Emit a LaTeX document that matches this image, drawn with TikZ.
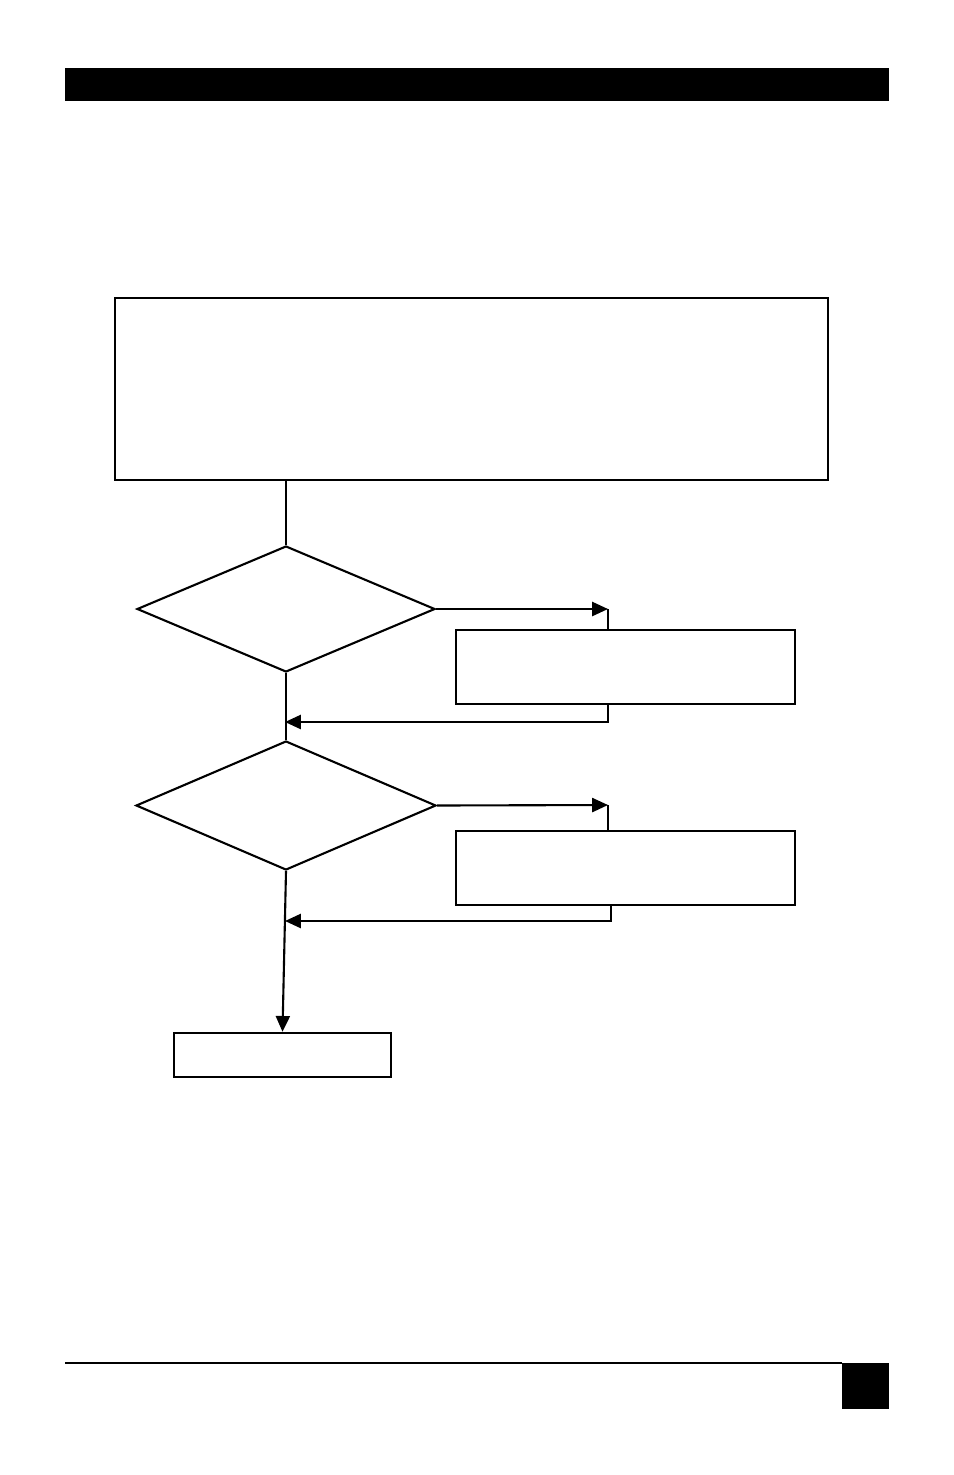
\documentclass[tikz,border=0pt]{standalone}
\usetikzlibrary{shapes.geometric, arrows.meta}
\tikzset{
	box/.style={draw=black, line width=1.4pt, fill=white, inner sep=0pt},
	decision/.style={draw=black, line width=1.2pt, diamond, aspect=2.36, inner sep=0pt},
	flow/.style={line width=1.2pt},
	flowarrow/.style={line width=1.2pt, -{Triangle[length=9pt,width=8pt]}}
}
\begin{document}
\begin{tikzpicture}[x=0.02cm, y=-0.02cm]
	\useasboundingbox (0,0) rectangle (954,1475);
	% Kopfbalken
	\fill[black] (65,68) rectangle (889,101);
	% Kaesten
	\node[box, minimum width=713*0.02cm, minimum height=182*0.02cm] (start) at (471.5,389) {};
	\node[decision, minimum width=298*0.02cm, minimum height=126*0.02cm] (checkA) at (286,609) {};
	\node[box, minimum width=339*0.02cm, minimum height=74*0.02cm] (fixA) at (625.5,667) {};
	\node[decision, minimum width=300*0.02cm, minimum height=129*0.02cm] (checkB) at (286,805.5) {};
	\node[box, minimum width=339*0.02cm, minimum height=74*0.02cm] (fixB) at (625.5,868) {};
	\node[box, minimum width=217*0.02cm, minimum height=44*0.02cm] (done) at (282.5,1055) {};
	\coordinate (joinA) at (285,722);
	\coordinate (joinB) at (285,921);
	% Verbindungen
	\draw[flow] (start.south -| checkA.north) -- (checkA.north);
	\draw[flowarrow] (checkA.east) -- (608,609);
	\draw[flow] (608,609) -- (608,630);
	\draw[flowarrow] (608,704) -- (608,722) -- (joinA);
	\draw[flow] (checkA.south) -- (checkB.north);
	\draw[flowarrow] (checkB.east) -- (608,805);
	\draw[flow] (608,805) -- (608,831);
	\draw[flowarrow] (611,905) -- (611,921) -- (joinB);
	\draw[flowarrow] (checkB.south) -- (done.north);
	% Fusszeile
	\draw[line width=0.8pt] (65,1363) -- (842,1363);
	\fill[black] (842,1363) rectangle (889,1409);
\end{tikzpicture}
\end{document}
